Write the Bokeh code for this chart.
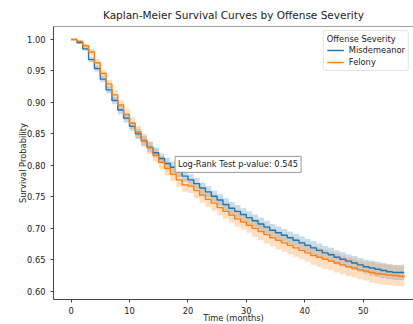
import numpy as np
from bokeh.plotting import figure
from bokeh.models import Label, Span, FixedTicker, NumeralTickFormatter, Range1d, Legend, LegendItem
from bokeh.embed import file_html
from bokeh.resources import INLINE

# ---- data ----
months = list(range(0, 58))

misd_surv = [1.000, 0.995, 0.985, 0.968, 0.954, 0.937, 0.920, 0.903, 0.888, 0.875,
             0.862, 0.850, 0.839, 0.829, 0.820, 0.811, 0.803, 0.797, 0.790, 0.783,
             0.777, 0.771, 0.764, 0.758, 0.751, 0.745, 0.738, 0.732, 0.727, 0.722,
             0.717, 0.712, 0.707, 0.702, 0.697, 0.693, 0.689, 0.685, 0.681, 0.677,
             0.673, 0.669, 0.665, 0.661, 0.658, 0.654, 0.651, 0.648, 0.645, 0.642,
             0.639, 0.637, 0.635, 0.633, 0.631, 0.630, 0.630, 0.630]

felony_surv = [1.000, 0.997, 0.990, 0.980, 0.963, 0.946, 0.929, 0.912, 0.896, 0.881,
               0.867, 0.853, 0.840, 0.828, 0.816, 0.805, 0.795, 0.786, 0.777, 0.769,
               0.767, 0.760, 0.753, 0.746, 0.740, 0.733, 0.727, 0.721, 0.715, 0.710,
               0.705, 0.700, 0.695, 0.690, 0.685, 0.681, 0.677, 0.673, 0.669, 0.665,
               0.661, 0.657, 0.654, 0.651, 0.648, 0.645, 0.642, 0.639, 0.637, 0.634,
               0.632, 0.630, 0.628, 0.627, 0.626, 0.625, 0.624, 0.622]

# half-width of the 95% confidence band, read from the shaded areas
misd_ci_half = [0.000, 0.002, 0.003, 0.004, 0.005, 0.005, 0.006, 0.006, 0.007, 0.007,
                0.007, 0.008, 0.008, 0.008, 0.008, 0.008, 0.009, 0.009, 0.009, 0.009,
                0.009, 0.009, 0.009, 0.009, 0.009, 0.009, 0.010, 0.010, 0.010, 0.010,
                0.010, 0.010, 0.010, 0.010, 0.010, 0.010, 0.010, 0.010, 0.010, 0.010,
                0.010, 0.011, 0.011, 0.011, 0.011, 0.011, 0.011, 0.011, 0.011, 0.011,
                0.011, 0.012, 0.012, 0.012, 0.012, 0.012, 0.012, 0.012]

felony_ci_half = [0.000, 0.002, 0.003, 0.005, 0.006, 0.006, 0.007, 0.008, 0.008, 0.009,
                  0.009, 0.010, 0.010, 0.010, 0.010, 0.010, 0.011, 0.011, 0.011, 0.011,
                  0.011, 0.012, 0.012, 0.012, 0.012, 0.012, 0.012, 0.012, 0.012, 0.012,
                  0.012, 0.014, 0.014, 0.014, 0.014, 0.014, 0.014, 0.014, 0.014, 0.014,
                  0.014, 0.015, 0.015, 0.015, 0.015, 0.015, 0.015, 0.015, 0.015, 0.015,
                  0.015, 0.016, 0.016, 0.016, 0.016, 0.016, 0.016, 0.016]

group_names = ["Misdemeanor", "Felony"]
x_ticks = [0, 10, 20, 30, 40, 50]
y_ticks = [0.60, 0.65, 0.70, 0.75, 0.80, 0.85, 0.90, 0.95, 1.00]
title_text = "Kaplan-Meier Survival Curves by Offense Severity"
p_value_text = "Log-Rank Test p-value: 0.545"

BLUE = "#1f77b4"
ORANGE = "#ff7f0e"
FONT = "DejaVu Sans"
Y_TOP = 1.0206

p = figure(frame_width=360, frame_height=273, output_backend="svg", toolbar_location=None,
           x_range=Range1d(-3.0, 58.6), y_range=Range1d(0.587, Y_TOP),
           min_border_left=53, min_border_right=0, min_border_top=26, min_border_bottom=25,
           title=title_text)

p.title.text_font = FONT
p.title.text_font_size = "10.5px"
p.title.text_font_style = "normal"
p.title.align = "center"
p.title.vertical_align = "middle"
p.title.text_color = "#222222"

p.grid.visible = False
p.outline_line_color = None
p.background_fill_color = "white"

groups = [(group_names[0], misd_surv, misd_ci_half, BLUE),
          (group_names[1], felony_surv, felony_ci_half, ORANGE)]
for name, surv, half, color in groups:
    s = np.array(surv)
    h = np.array(half)
    p.varea_step(x=months, y1=list(s - h), y2=list(s + h), step_mode="after",
                 fill_color=color, fill_alpha=0.25)
renderers = []
for name, surv, half, color in groups:
    r = p.step(x=months, y=surv, mode="after", line_color=color, line_width=1.4)
    renderers.append((name, r))

# axes styling
for ax in (p.xaxis[0], p.yaxis[0]):
    ax.axis_line_color = "#444444"
    ax.major_tick_line_color = "#444444"
    ax.major_tick_out = 3
    ax.major_tick_in = 0
    ax.minor_tick_line_color = None
    ax.major_label_text_font = FONT
    ax.major_label_text_font_size = "8.3px"
    ax.major_label_text_color = "#222222"
    ax.axis_label_text_font = FONT
    ax.axis_label_text_font_size = "8.3px"
    ax.axis_label_text_font_style = "normal"
    ax.axis_label_text_color = "#222222"

p.xaxis.ticker = FixedTicker(ticks=x_ticks)
p.yaxis.ticker = FixedTicker(ticks=y_ticks)
p.yaxis.formatter = NumeralTickFormatter(format="0.00")
p.xaxis.axis_label = "Time (months)"
p.yaxis.axis_label = "Survival Probability"
p.xaxis.major_label_standoff = 4
p.xaxis.axis_label_standoff = -4
p.yaxis.major_label_standoff = 5
p.yaxis.axis_label_standoff = -4

# top spine
p.add_layout(Span(location=Y_TOP, dimension="width", line_color="#444444", line_width=1))

# p-value annotation
p.add_layout(Label(x=17.8, y=0.8016, text=p_value_text, text_baseline="middle",
                   text_font=FONT, text_font_size="8.3px", text_color="#222222",
                   border_line_color="#999999", border_line_width=1,
                   background_fill_color="white", background_fill_alpha=0.9, padding=3))

legend = Legend(items=[LegendItem(label=n, renderers=[r]) for n, r in renderers],
                title="Offense Severity", location="top_right")
legend.title_text_font = FONT
legend.title_text_font_size = "8.3px"
legend.title_text_font_style = "normal"
legend.title_text_color = "#222222"
legend.title_standoff = 1
legend.label_text_font = FONT
legend.label_text_font_size = "8.3px"
legend.label_text_color = "#222222"
legend.label_height = 10
legend.glyph_height = 10
legend.glyph_width = 17
legend.spacing = 2
legend.padding = 3
legend.margin = 4
legend.label_standoff = 5
legend.border_line_color = "#cccccc"
legend.border_radius = 3
legend.background_fill_alpha = 0.8
p.add_layout(legend, "center")

open("out.html", "w").write(file_html(p, INLINE))
